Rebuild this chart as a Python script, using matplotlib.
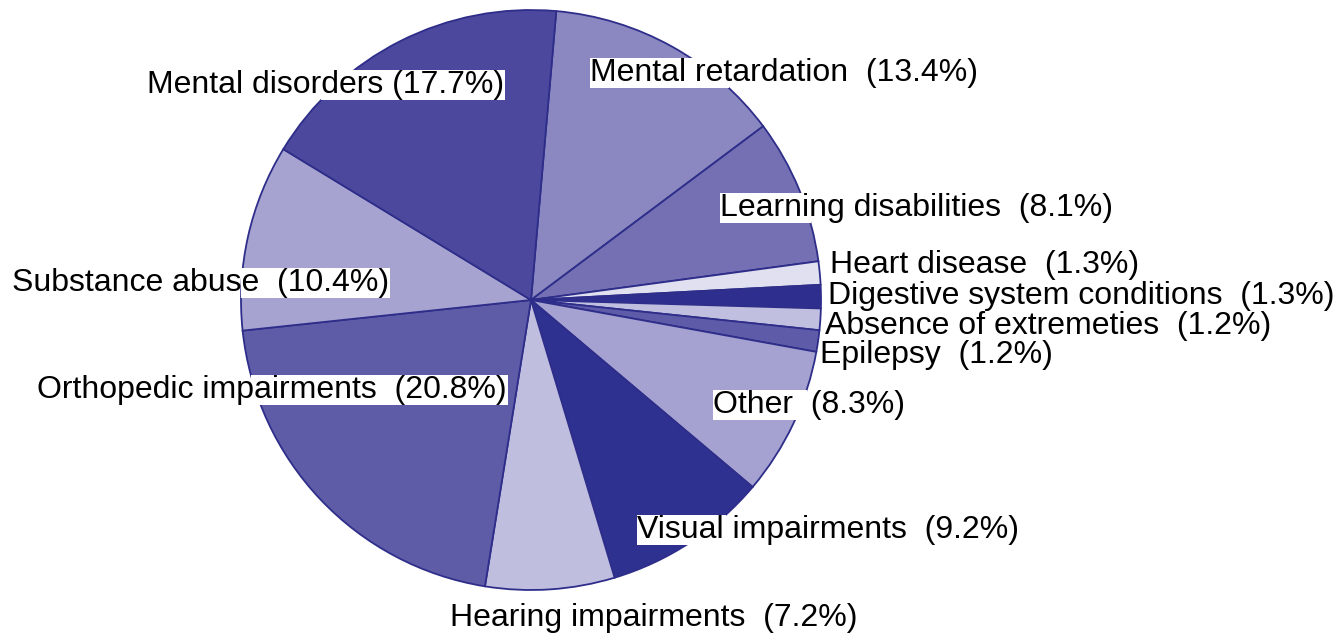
import matplotlib
matplotlib.use("Agg")
import matplotlib.pyplot as plt
from matplotlib.patches import Rectangle
import numpy as np

categories = ["Mental retardation", "Learning disabilities", "Heart disease",
              "Digestive system conditions", "Absence of extremeties", "Epilepsy",
              "Other", "Visual impairments", "Hearing impairments",
              "Orthopedic impairments", "Substance abuse", "Mental disorders"]
values = [13.4, 8.1, 1.3, 1.3, 1.2, 1.2, 8.3, 9.2, 7.2, 20.8, 10.4, 17.7]
colors = ["#8A87C1", "#7470B3", "#E0E0F0", "#2E2E8E", "#C0BFE0", "#5E5BA8",
          "#A5A2D1", "#2E3190", "#C0BEDE", "#5F5CA7", "#A7A3D1", "#4B489D"]
separators = ["  ", "  ", "  ", "  ", "  ", "  ", "  ", "  ", "  ", "  ", "  ", " "]

# layout (pixel coordinates, y from top): label left x, label center y
label_pos = [(590, 73), (720, 208), (830, 265), (828, 296), (825, 326), (820, 355),
             (713, 405), (637, 530), (450, 618), (37, 390), (12, 283), (147, 85)]

W, H = 1336, 635
CX, CY, R = 531, 300, 290

fig = plt.figure(figsize=(W / 100, H / 100), dpi=100)
ax = fig.add_axes([0, 0, 1, 1])
ax.pie(values, colors=colors, startangle=85, counterclock=False,
       center=(CX, H - CY), radius=R,
       wedgeprops=dict(edgecolor="#2E2E8A", linewidth=1.3))
ax.set_xlim(0, W)
ax.set_ylim(0, H)
ax.set_aspect("equal", adjustable="box")
ax.axis("off")

texts = []
for cat, val, sep, (lx, ly) in zip(categories, values, separators, label_pos):
    t = ax.text(lx, H - ly, f"{cat}{sep}({val}%)", ha="left", va="center",
                fontsize=23, family=["Liberation Sans", "DejaVu Sans"],
                color="black", zorder=5)
    texts.append(t)

fig.canvas.draw()
renderer = fig.canvas.get_renderer()
# white label backgrounds, limited to the horizontal extent of the pie
for t in texts:
    bb = t.get_window_extent(renderer)
    x0, x1 = bb.x0, bb.x1 + 1
    y0, y1 = bb.y0, bb.y1
    cy = H - CY
    if y0 <= cy <= y1:
        d = 0
    else:
        d = min(abs(y0 - cy), abs(y1 - cy))
    if d >= R:
        continue
    half = np.sqrt(R ** 2 - d ** 2)
    bx0, bx1 = max(x0, CX - half), min(x1, CX + half)
    if bx1 <= bx0:
        continue
    ax.add_patch(Rectangle((bx0, y0), bx1 - bx0, y1 - y0, facecolor="white",
                           edgecolor="none", zorder=4, transform=None))

fig.savefig("out.png", dpi=100)
